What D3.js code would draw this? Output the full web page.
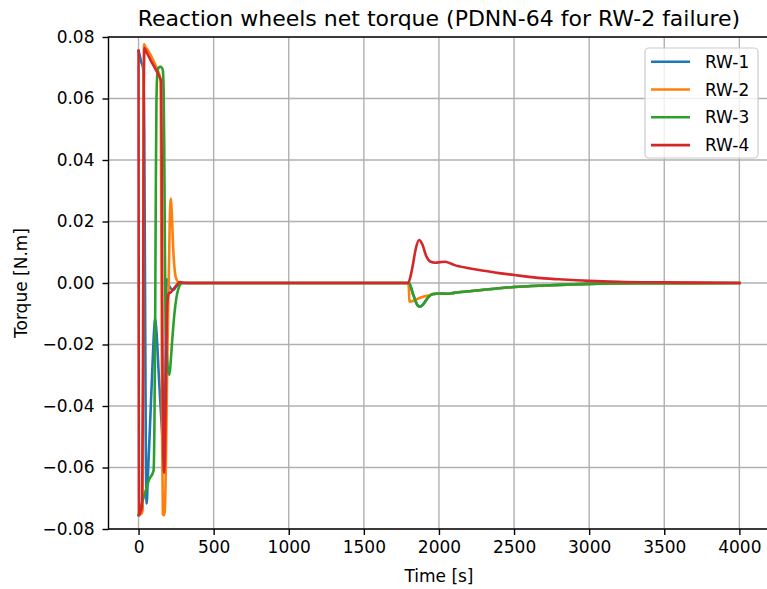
<!DOCTYPE html>
<html>
<head>
<meta charset="utf-8">
<script src="https://cdn.jsdelivr.net/npm/d3@7"></script>
<style>
  html, body { margin: 0; padding: 0; background: #fff; }
  svg { display: block; font-family: "DejaVu Sans", sans-serif; }
</style>
</head>
<body>
<svg id="chart" width="767" height="589"></svg>
<script>
// ---- data (time [s], torque [N.m]) ----
const seriesNames = ["RW-1", "RW-2", "RW-3", "RW-4"];
const seriesColors = ["#1f77b4", "#ff7f0e", "#2ca02c", "#d62728"];

const rw1 = [[0,0.0755],[8,0.074],[17,0.072],[30,0.070],[38,0.05],[43,0.0],[48,-0.05],[54,-0.0717],[62,-0.063],[75,-0.048],[90,-0.030],[103,-0.016],[110,-0.0115],[118,-0.015],[135,-0.030],[150,-0.043],[162,-0.052],[170,-0.056],[176,-0.045],[181,-0.02],[186,0.0005],[190,0.0012],[200,-0.0005],[215,-0.0018],[232,-0.0023],[250,-0.0012],[270,-0.0004],[300,0],[1795,0],[1800,0],[1830,-0.004],[1860,-0.0074],[1875,-0.0077],[1900,-0.0066],[1930,-0.0046],[1960,-0.0036],[2000,-0.0034],[2050,-0.0035],[2100,-0.0032],[2200,-0.0027],[2300,-0.0022],[2400,-0.0017],[2500,-0.0013],[2700,-0.0008],[3000,-0.0003],[3300,-0.0001],[4000,0]];

const rw2 = [[0,-0.0755],[20,-0.075],[27,-0.074],[30,-0.02],[33,0.06],[37,0.0776],[45,0.0768],[65,0.0755],[90,0.0732],[120,0.0700],[145,0.0665],[149,0.05],[153,0.0],[157,-0.05],[162,-0.0752],[168,-0.0755],[174,-0.0745],[180,-0.065],[186,-0.045],[193,-0.02],[200,-0.002],[207,0.018],[212,0.026],[216,0.0275],[222,0.022],[230,0.012],[240,0.0045],[252,0.0012],[268,0.0002],[300,0],[1795,0],[1800,-0.002],[1803,-0.0061],[1830,-0.0058],[1860,-0.0051],[1900,-0.0044],[1950,-0.0038],[2000,-0.0034],[2050,-0.0035],[2100,-0.0032],[2200,-0.0027],[2300,-0.0022],[2400,-0.0017],[2500,-0.0013],[2700,-0.0008],[3000,-0.0003],[3300,-0.0001],[4000,0]];

const rw3 = [[0,-0.0755],[20,-0.072],[45,-0.068],[70,-0.064],[100,-0.061],[106,-0.045],[111,-0.01],[115,0.03],[119,0.058],[125,0.068],[133,0.0700],[145,0.0703],[156,0.0700],[162,0.069],[167,0.063],[171,0.045],[175,0.015],[179,-0.008],[187,-0.022],[197,-0.0285],[206,-0.0299],[215,-0.025],[225,-0.018],[235,-0.012],[250,-0.0055],[268,-0.0015],[290,0],[1795,0],[1800,0],[1830,-0.004],[1860,-0.0074],[1875,-0.0077],[1900,-0.0066],[1930,-0.0046],[1960,-0.0036],[2000,-0.0034],[2050,-0.0035],[2100,-0.0032],[2200,-0.0027],[2300,-0.0022],[2400,-0.0017],[2500,-0.0013],[2700,-0.0008],[3000,-0.0003],[3300,-0.0001],[4000,0]];

const rw4 = [[0,0.0755],[3,-0.0755],[12,-0.0745],[23,-0.0727],[30,-0.03],[35,0.06],[39,0.0764],[55,0.0749],[80,0.0725],[110,0.0698],[140,0.0670],[151,0.0655],[155,0.03],[160,-0.03],[165,-0.057],[171,-0.0617],[177,-0.052],[184,-0.025],[191,-0.007],[200,-0.0035],[215,-0.003],[240,-0.0015],[262,-0.0002],[276,0.0003],[300,0.0001],[330,0],[1795,0],[1810,0.002],[1825,0.0055],[1845,0.011],[1868,0.0140],[1890,0.0125],[1915,0.0088],[1945,0.0069],[1975,0.0066],[2010,0.0068],[2040,0.0069],[2070,0.0065],[2100,0.0059],[2200,0.0048],[2300,0.0040],[2400,0.0032],[2500,0.0026],[2600,0.0020],[2700,0.0015],[2800,0.0012],[3000,0.0007],[3200,0.0004],[3500,0.0002],[4000,0.0]];

const seriesData = [rw1, rw2, rw3, rw4];

const xTicks = [0, 500, 1000, 1500, 2000, 2500, 3000, 3500, 4000];
const yTicks = [-0.08, -0.06, -0.04, -0.02, 0.00, 0.02, 0.04, 0.06, 0.08];

const titleText = "Reaction wheels net torque (PDNN-64 for RW-2 failure)";
const xLabel = "Time [s]";
const yLabel = "Torque [N.m]";

// ---- layout ----
const svg = d3.select("#chart");
const plot = { left: 108.5, right: 769.4, top: 37, bottom: 529 };

const x = d3.scaleLinear().domain([-200, 4200]).range([plot.left, plot.right]);
const y = d3.scaleLinear().domain([-0.08, 0.08]).range([plot.bottom, plot.top]);

const FS = 17;

svg.append("defs").append("clipPath").attr("id", "clip")
  .append("rect").attr("x", plot.left).attr("y", plot.top)
  .attr("width", plot.right - plot.left).attr("height", plot.bottom - plot.top);

// grid
const grid = svg.append("g");
grid.selectAll("line.gx").data(xTicks).join("line")
  .attr("x1", d => x(d)).attr("x2", d => x(d))
  .attr("y1", plot.top).attr("y2", plot.bottom)
  .attr("stroke", "#b0b0b0").attr("stroke-width", 1.4);
grid.selectAll("line.gy").data(yTicks).join("line")
  .attr("y1", d => y(d)).attr("y2", d => y(d))
  .attr("x1", plot.left).attr("x2", plot.right)
  .attr("stroke", "#b0b0b0").attr("stroke-width", 1.4);

// lines
const line = d3.line().x(d => x(d[0])).y(d => y(d[1])).curve(d3.curveMonotoneX);
const lines = svg.append("g").attr("clip-path", "url(#clip)");
seriesData.forEach((s, i) => {
  lines.append("path").datum(s)
    .attr("d", line)
    .attr("fill", "none")
    .attr("stroke", seriesColors[i])
    .attr("stroke-width", 2.6)
    .attr("stroke-linejoin", "round")
    .attr("stroke-linecap", "square");
});

// axes
const xAxis = d3.axisBottom(x).tickValues(xTicks).tickFormat(d3.format("d")).tickSize(6).tickPadding(6);
const yAxis = d3.axisLeft(y).tickValues(yTicks).tickFormat(d => d3.format(".2f")(d).replace("-", "\u2212")).tickSize(6).tickPadding(8);

const gx = svg.append("g").attr("transform", `translate(0,${plot.bottom})`).call(xAxis);
const gy = svg.append("g").attr("transform", `translate(${plot.left},0)`).call(yAxis);
[gx, gy].forEach(g => {
  g.select(".domain").remove();
  g.selectAll(".tick line").attr("stroke", "#000").attr("stroke-width", 1.4);
  g.selectAll(".tick text").attr("fill", "#000").style("font-size", FS + "px").style("font-family", "DejaVu Sans");
});

// spines
svg.append("rect").attr("x", plot.left).attr("y", plot.top)
  .attr("width", plot.right - plot.left).attr("height", plot.bottom - plot.top)
  .attr("fill", "none").attr("stroke", "#000").attr("stroke-width", 1.4);

// labels
svg.append("text").attr("x", (plot.left + plot.right) / 2).attr("y", 25.5)
  .attr("text-anchor", "middle").style("font-size", "22px").attr("fill", "#000").text(titleText);
svg.append("text").attr("x", (plot.left + plot.right) / 2).attr("y", 582)
  .attr("text-anchor", "middle").style("font-size", FS + "px").attr("fill", "#000").text(xLabel);
svg.append("text").attr("transform", `translate(27,${(plot.top + plot.bottom) / 2}) rotate(-90)`)
  .attr("text-anchor", "middle").style("font-size", FS + "px").attr("fill", "#000").text(yLabel);

// legend
const lg = svg.append("g");
lg.append("rect").attr("x", 645).attr("y", 48).attr("width", 113).attr("height", 110)
  .attr("rx", 4).attr("fill", "#fff").attr("fill-opacity", 0.8)
  .attr("stroke", "#cccccc").attr("stroke-width", 1.2);
seriesNames.forEach((n, i) => {
  const yy = 61.7 + i * 27.8;
  lg.append("line").attr("x1", 651).attr("x2", 690).attr("y1", yy).attr("y2", yy)
    .attr("stroke", seriesColors[i]).attr("stroke-width", 2.6);
  lg.append("text").attr("x", 705).attr("y", yy).attr("dy", "0.36em")
    .style("font-size", FS + "px").attr("fill", "#000").text(n);
});
</script>
</body>
</html>
